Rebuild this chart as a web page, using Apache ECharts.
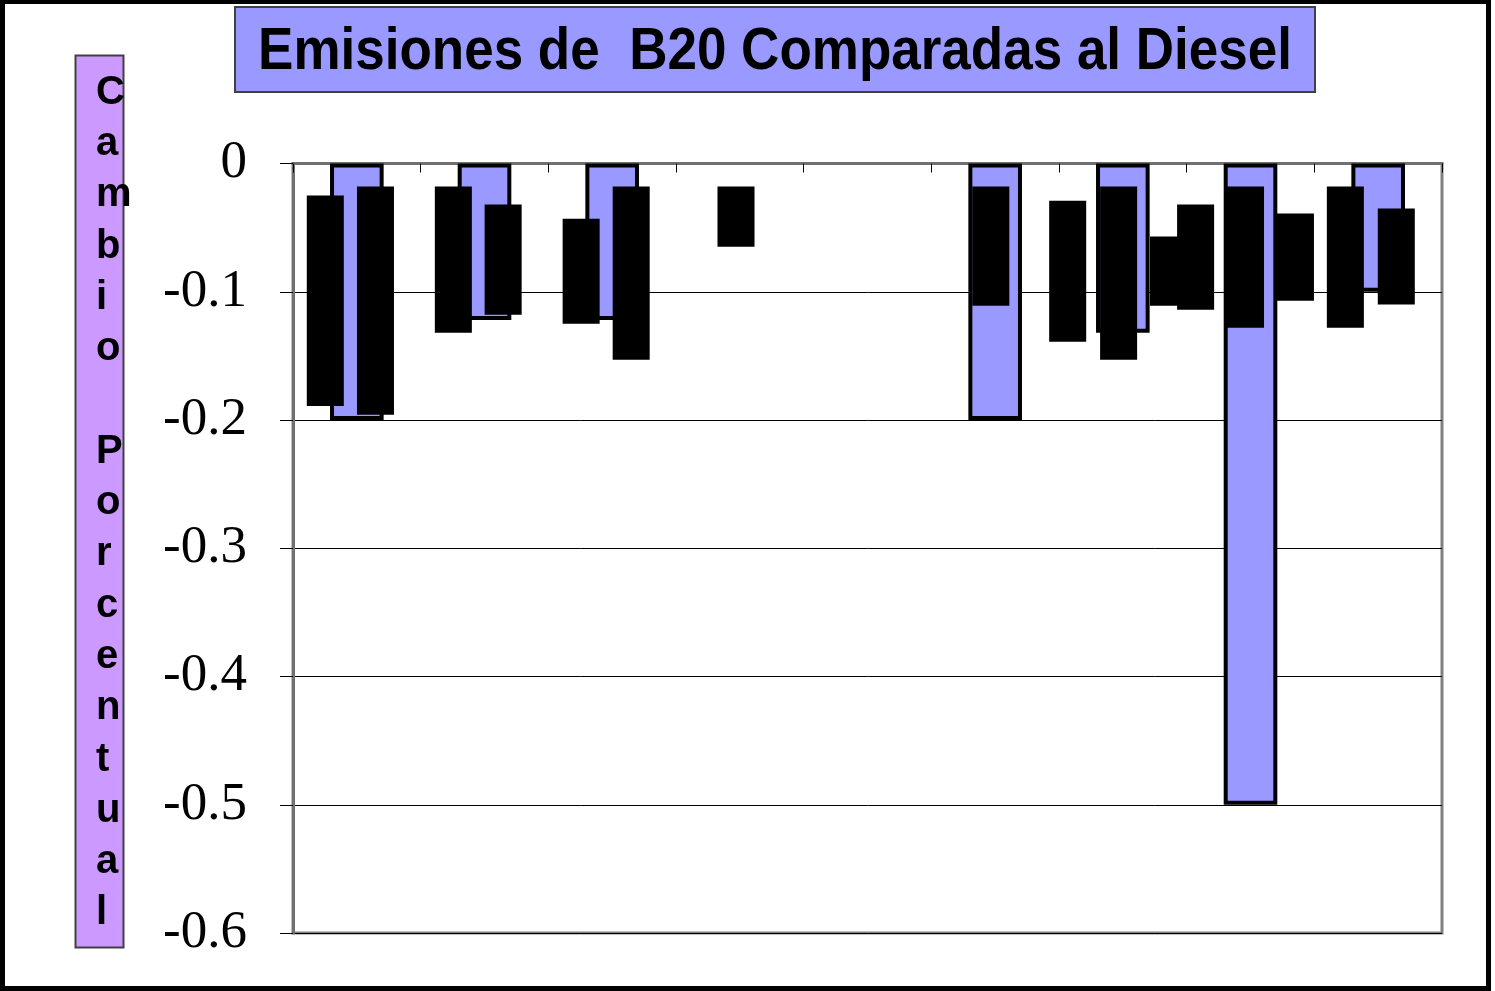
<!DOCTYPE html>
<html>
<head>
<meta charset="utf-8">
<script src="https://cdn.jsdelivr.net/npm/echarts@6/dist/echarts.min.js"></script>
<style>
html,body{margin:0;padding:0;background:#fff;}
#chart{width:1495px;height:991px;}
</style>
</head>
<body>
<div id="chart"></div>
<script>
// ---- data ----
const categories = ['1', '2', '3', '4', '5', '6', '7', '8', '9'];
const b20Change = [-0.2, -0.122, -0.122, null, null, -0.2, -0.132, -0.5, -0.1];
// black range blocks: position along category scale (0..9), upper and lower values
const blockPos  = [0.253, 0.646, 1.256, 1.646, 2.257, 2.649, 3.470, 5.466, 6.068, 6.467, 6.858, 7.070, 7.461, 7.852, 8.243, 8.642];
const blockHigh = [-0.025, -0.018, -0.018, -0.032, -0.043, -0.018, -0.018, -0.018, -0.029, -0.018, -0.057, -0.032, -0.018, -0.039, -0.018, -0.035];
const blockLow  = [-0.189, -0.196, -0.132, -0.118, -0.125, -0.153, -0.065, -0.111, -0.139, -0.153, -0.111, -0.114, -0.128, -0.107, -0.128, -0.110];
const yTicks = [0, -0.1, -0.2, -0.3, -0.4, -0.5, -0.6];
const titleText = 'Emisiones de  B20 Comparadas al Diesel';
const yName = 'Cambio Porcentual';

const chart = echarts.init(document.getElementById('chart'), null, {renderer: 'canvas'});
const sansBold = "'Liberation Sans', Arial, sans-serif";
const serif = "'Liberation Serif', 'Times New Roman', serif";

const option = {
  backgroundColor: '#ffffff',
  animation: false,
  grid: {
    left: 293, top: 163.5, width: 1149, height: 769.5,
    show: true, borderColor: '#808080', borderWidth: 3, backgroundColor: 'transparent'
  },
  xAxis: [
    {
      type: 'category', data: categories, position: 'top',
      axisLine: {show: true, lineStyle: {color: '#707070', width: 3}},
      axisTick: {show: true, inside: true, length: 9, interval: 0, lineStyle: {color: '#000', width: 1}},
      axisLabel: {show: false},
      splitLine: {show: false}
    },
    {
      type: 'value', min: 0, max: categories.length, show: false
    }
  ],
  yAxis: {
    type: 'value', min: yTicks[yTicks.length - 1], max: yTicks[0], interval: 0.1,
    axisLine: {show: true, lineStyle: {color: '#707070', width: 3}},
    axisTick: {show: true, inside: false, length: 13, lineStyle: {color: '#000', width: 1}},
    axisLabel: {
      show: true, margin: 46, color: '#000',
      fontFamily: serif, fontSize: 53,
      formatter: v => String(Math.round(v * 10) / 10)
    },
    splitLine: {show: true, lineStyle: {color: '#000', width: 1}}
  },
  series: [
    {
      type: 'bar', name: 'B20', data: b20Change, xAxisIndex: 0,
      barWidth: '42%',
      itemStyle: {color: '#9999FF', borderColor: '#000', borderWidth: 4},
      z: 2
    },
    {
      type: 'custom', name: 'rango', xAxisIndex: 1,
      data: blockPos.map((x, i) => [x, blockHigh[i], blockLow[i]]),
      encode: {x: 0, y: [1, 2]},
      renderItem: function (params, api) {
        const x = api.value(0);
        const p1 = api.coord([x, api.value(1)]);
        const p2 = api.coord([x, api.value(2)]);
        const w = api.size([0.29, 0])[0];
        return {
          type: 'rect',
          shape: {x: p1[0] - w / 2, y: p1[1], width: w, height: p2[1] - p1[1]},
          style: {fill: '#000'}
        };
      },
      z: 5
    }
  ],
  graphic: [
    {
      type: 'rect', z: 0,
      shape: {x: 2.5, y: 1.5, width: 1486, height: 987},
      style: {fill: 'none', stroke: '#000', lineWidth: 5}
    },
    {
      type: 'rect', z: 10,
      shape: {x: 235, y: 7, width: 1080, height: 85},
      style: {fill: '#9999FF', stroke: '#404040', lineWidth: 2}
    },
    {
      type: 'text', z: 11,
      x: 775, y: 53, scaleX: 1.0, scaleY: 1.12,
      style: {
        text: titleText, fill: '#000',
        font: "bold 53px " + sansBold,
        textAlign: 'center', textVerticalAlign: 'middle'
      }
    },
    {
      type: 'rect', z: 10,
      shape: {x: 75.5, y: 55.5, width: 48, height: 892},
      style: {fill: '#CC99FF', stroke: '#404040', lineWidth: 2}
    },
    {
      type: 'text', z: 11,
      x: 96, y: 67,
      style: {
        text: yName.split('').join('\n'), fill: '#000',
        font: "bold 40px " + sansBold,
        lineHeight: 51.3,
        textAlign: 'left', textVerticalAlign: 'top'
      }
    }
  ]
};
chart.setOption(option);
</script>
</body>
</html>
